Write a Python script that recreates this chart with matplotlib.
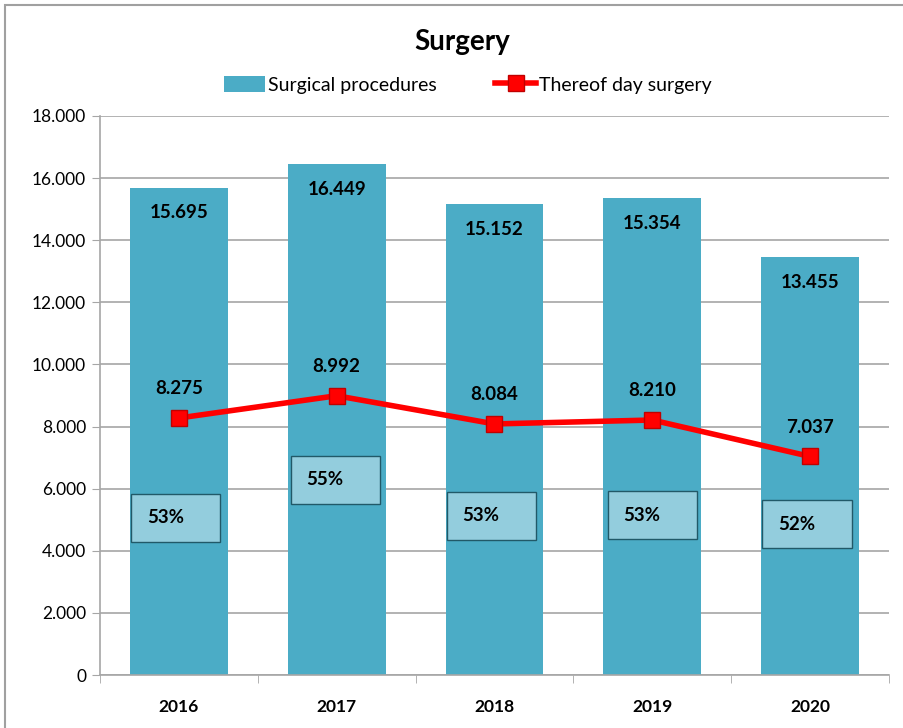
import matplotlib.pyplot as plt
import numpy as np
from matplotlib.patches import Rectangle
from matplotlib.ticker import FuncFormatter

plt.rcParams['font.family'] = ['Lato', 'DejaVu Sans']

# datos
years = ["2016", "2017", "2018", "2019", "2020"]
procedures = [15695, 16449, 15152, 15354, 13455]
day_surgery = [8275, 8992, 8084, 8210, 7037]
shares = ["53%", "55%", "53%", "53%", "52%"]

# posicion vertical (centro) de las cajas de porcentaje
box_centers = [5060, 6280, 5120, 5150, 4860]

bar_color = "#4BACC6"
box_color = "#93CDDD"
line_color = "#FF0000"
grid_color = "#A6A6A6"

def fmt(v):
    return f"{v:,.0f}".replace(",", ".")

fig = plt.figure(figsize=(9.04, 7.28), dpi=100)
ax = fig.add_axes([0.1106, 0.0728, 0.8728, 0.7679])

# borde exterior del grafico
fig.patches.append(Rectangle((5 / 904, -0.05), 1.2, 0.05 + (728 - 5) / 728,
                             transform=fig.transFigure, fill=False,
                             edgecolor="#A0A0A0", linewidth=1.5))

x = np.arange(len(years))
bars = ax.bar(x, procedures, 0.62, color=bar_color, label="Surgical procedures", zorder=2)
line, = ax.plot(x, day_surgery, color=line_color, linewidth=4, marker="s",
                markersize=11, markerfacecolor=line_color, markeredgecolor="#C00000",
                markeredgewidth=1, label="Thereof day surgery", zorder=4)

# etiquetas de las barras
for xi, v in zip(x, procedures):
    ax.annotate(fmt(v), (xi, v), xytext=(0, -18), textcoords="offset points",
                ha="center", va="center", fontsize=13.5, fontweight="bold", zorder=5)

# etiquetas de la linea
for xi, v in zip(x, day_surgery):
    ax.annotate(fmt(v), (xi, v), xytext=(0, 21), textcoords="offset points",
                ha="center", va="center", fontsize=13.5, fontweight="bold", zorder=5)

# cajas de porcentaje
box_w = 0.565
box_h = 1550
box_dx = [0.0, 0.01, 0.0, 0.02, 0.0]
for xi, yc, s, dx in zip(x, box_centers, shares, box_dx):
    left = xi - box_w / 2 - 0.02 + dx
    ax.add_patch(Rectangle((left, yc - box_h / 2), box_w, box_h,
                           facecolor=box_color, edgecolor="#215968",
                           linewidth=1, zorder=3))
    ax.text(left + 0.1, yc, s, ha="left", va="center", fontsize=13.5,
            fontweight="bold", zorder=5)

ax.set_xlim(-0.5, len(years) - 0.5)
ax.set_ylim(0, 18000)
ax.set_yticks(np.arange(0, 18001, 2000))
ax.yaxis.set_major_formatter(FuncFormatter(lambda v, p: fmt(v)))
ax.set_xticks(x)
ax.set_xticklabels(years, fontweight="bold")
ax.set_xticks(np.arange(-0.5, len(years)), minor=True)
ax.tick_params(axis="x", which="major", length=0, pad=17, labelsize=12.5)
ax.tick_params(axis="x", which="minor", length=6, color=grid_color, direction="out")
ax.tick_params(axis="y", length=6, color=grid_color, labelsize=12.5, pad=4)

ax.yaxis.grid(True, color=grid_color, linewidth=1.2, zorder=0)
ax.set_axisbelow(True)
for side in ["top", "right"]:
    ax.spines[side].set_visible(False)
for side in ["left", "bottom"]:
    ax.spines[side].set_color(grid_color)
    ax.spines[side].set_linewidth(1.2)

fig.text(462 / 904, 1 - 42 / 728, "Surgery", ha="center", va="center",
         fontsize=20, fontweight="bold")

fig.legend(handles=[bars, line], loc="center", bbox_to_anchor=(468 / 904, 1 - 85 / 728),
           ncol=2, frameon=False, fontsize=14, handlelength=2.1, handleheight=0.9,
           columnspacing=3.0, handletextpad=0.15)

plt.savefig("out.png", dpi=100)
plt.close()
